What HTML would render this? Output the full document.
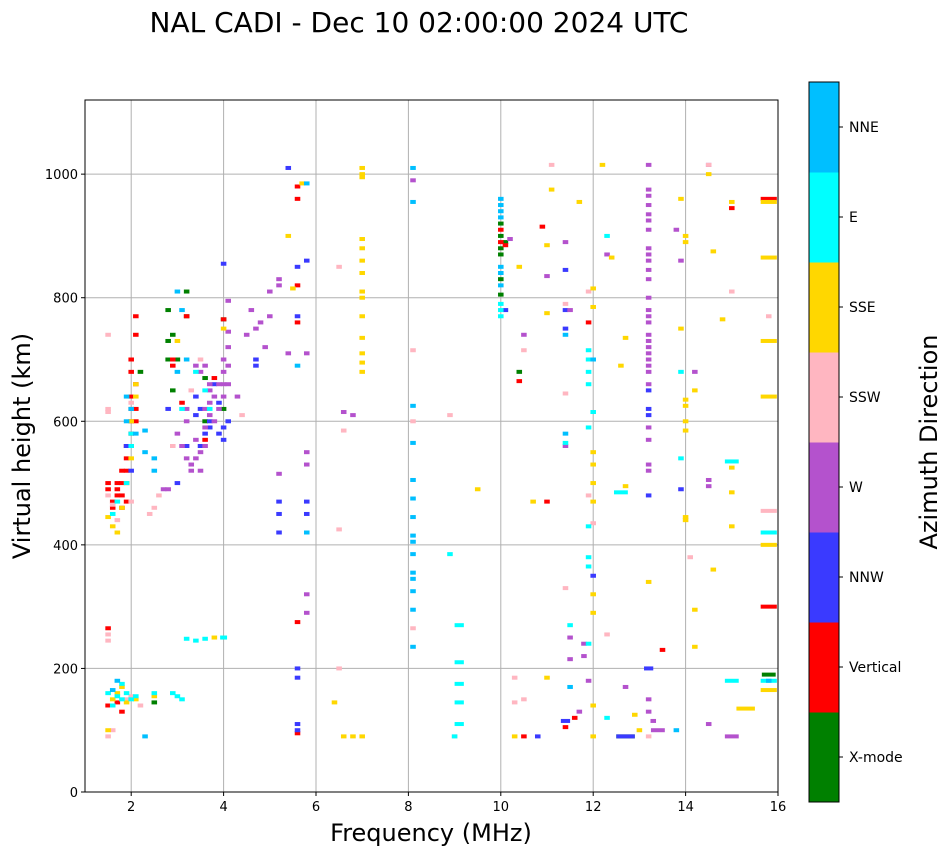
<!DOCTYPE html>
<html><head><meta charset="utf-8"><style>
body{margin:0;background:#fff;font-family:"Liberation Sans","DejaVu Sans",sans-serif}
svg text{font-family:"DejaVu Sans","Liberation Sans",sans-serif}
</style></head><body>
<svg id="chart" width="951" height="856" xmlns="http://www.w3.org/2000/svg">
<text x="419" y="32" font-size="28" text-anchor="middle">NAL CADI - Dec 10 02:00:00 2024 UTC</text>
<g id="grid"></g><g id="marks"></g><g id="axes"></g><g id="cbar"></g>
<text x="431" y="841" font-size="24" text-anchor="middle">Frequency (MHz)</text>
<text x="30" y="446" font-size="24" text-anchor="middle" transform="rotate(-90 30 446)">Virtual height (km)</text>
<text x="937" y="442" font-size="24" text-anchor="middle" transform="rotate(-90 937 442)">Azimuth Direction</text>
</svg>
<script>
const xTicks=[2,4,6,8,10,12,14,16];
const yTicks=[0,200,400,600,800,1000];
const dirNames=["X-mode","Vertical","NNW","W","SSW","SSE","E","NNE"];
const dirColors=["#008000","#ff0000","#3a3aff","#b452cd","#ffb6c1","#ffd700","#00ffff","#00bfff"];
// [freq MHz, height km, optional width MHz]
const xmode=[[2.8,780],[2.9,740],[2.9,650],[2.8,700],[2.8,730],[3.2,810],[3.2,770],[4.0,765],[10.0,920],[10.0,900],[10.0,880],[10.0,870],[10.0,830],[10.0,805],[10.1,890],[10.4,680],[12.7,90,0.4],[15.8,190,0.3],[3.6,600],[4.0,620],[2.5,145],[3.0,700],[3.6,670],[2.2,680]];
const vertical=[[1.5,500],[1.5,490],[1.6,470],[1.6,460],[1.7,500],[1.7,490],[1.7,480],[1.8,520],[1.8,480],[1.8,460],[1.8,500],[1.9,540],[1.9,520],[1.9,470],[1.9,500],[2.0,600],[2.0,560],[2.0,640],[2.0,680],[2.0,700],[2.1,620],[2.1,660],[2.1,770],[2.1,740],[2.1,600],[2.0,580],[1.9,560],[1.5,265],[1.5,140],[1.7,145],[1.8,130],[2.9,700],[2.9,690],[3.2,770],[3.1,630],[4.0,765],[5.6,980],[5.6,960],[5.6,820],[5.6,275],[5.6,95],[5.6,760],[10.0,910],[10.0,890],[10.1,885],[10.4,665],[10.9,915],[11.0,470],[11.4,105],[11.9,760],[11.6,120],[13.5,230],[15.0,945],[15.8,960,0.35],[15.8,300,0.35],[3.6,570],[3.8,670],[2.0,620],[10.5,90]];
const nnw=[[3.5,620],[3.7,600],[3.7,590],[3.8,660],[3.9,580],[4.0,570],[4.0,590],[4.1,600],[3.4,640],[3.5,560],[3.2,560],[3.0,500],[3.4,610],[4.7,700],[4.7,690],[5.2,470],[5.2,450],[5.2,420],[5.8,470],[5.8,450],[5.6,110],[5.6,100],[5.6,200],[5.6,185],[5.4,1010],[5.6,850],[5.8,860],[4.0,855],[5.6,770],[10.1,780],[11.4,780],[11.4,750],[11.4,845],[12.0,350],[13.2,650],[13.2,620],[13.2,610],[13.2,480],[13.2,200,0.2],[13.9,490],[11.4,115,0.2],[12.7,90,0.4],[10.8,90],[3.9,630],[3.6,580],[2.8,620],[1.9,560],[2.0,520]];
const west=[[2.8,490],[2.7,490],[3.0,580],[3.1,560],[3.2,540],[3.3,520],[3.3,530],[3.4,540],[3.4,570],[3.5,550],[3.5,520],[3.6,560],[3.6,590],[3.6,620],[3.7,610],[3.7,630],[3.7,650],[3.8,640],[3.8,600],[3.9,620],[3.9,660],[4.0,640],[4.0,660],[4.0,680],[4.0,700],[4.1,690],[4.1,720],[4.1,745],[4.1,795],[4.1,660],[4.3,640],[4.5,740],[4.6,780],[4.7,750],[4.8,760],[4.9,720],[5.0,770],[5.0,810],[5.2,820],[5.2,830],[5.4,710],[5.8,710],[5.8,550],[5.8,530],[5.8,320],[5.8,290],[5.2,515],[3.6,690],[3.4,690],[3.2,620],[3.2,600],[3.5,680],[3.7,660],[6.6,615],[6.8,610],[8.1,990],[10.2,895],[10.5,740],[11.0,835],[11.4,890],[11.5,780],[11.4,560],[11.5,250],[11.5,215],[11.8,220],[11.8,240],[11.9,180],[11.7,130],[12.7,170],[12.3,870],[13.2,1015],[13.2,975],[13.2,965],[13.2,950],[13.2,935],[13.2,925],[13.2,910],[13.2,880],[13.2,870],[13.2,860],[13.2,845],[13.2,830],[13.2,800],[13.2,780],[13.2,770],[13.2,760],[13.2,740],[13.2,730],[13.2,720],[13.2,710],[13.2,700],[13.2,690],[13.2,680],[13.2,660],[13.2,590],[13.2,570],[13.2,530],[13.2,520],[13.2,150],[13.2,130],[13.3,115],[13.4,100,0.3],[13.8,910],[13.9,860],[14.2,680],[14.5,505],[14.5,495],[14.5,110],[15.0,90,0.3],[14.5,1015]];
const ssw=[[1.5,740],[1.5,615],[1.5,620],[1.5,255],[1.5,245],[1.5,480],[1.6,465],[1.7,440],[2.0,470],[2.4,450],[2.5,460],[2.6,480],[2.0,630],[3.5,700],[3.3,650],[1.9,150],[2.2,140],[2.0,155],[1.6,100],[1.5,90],[6.5,425],[6.5,200],[6.6,585],[6.5,850],[8.1,715],[8.1,600],[8.1,265],[8.9,610],[9.0,90],[10.3,185],[10.5,150],[10.3,145],[10.5,715],[11.1,1015],[11.4,790],[11.4,645],[11.4,330],[11.9,810],[11.9,480],[12.0,435],[12.3,255],[13.2,90],[14.1,380],[14.5,1015],[15.0,810],[15.8,770],[15.8,455,0.35],[4.4,610],[2.9,560]];
const sse=[[1.5,445],[1.6,430],[1.7,420],[1.8,460],[1.9,500],[2.0,540],[2.0,600],[2.1,640],[2.1,660],[1.5,100],[1.6,150],[1.7,160],[1.8,170],[1.9,145],[2.1,150],[2.5,155],[3.8,250],[4.0,250],[3.0,730],[4.0,750],[5.4,900],[5.5,815],[5.7,985],[7.0,1010],[7.0,1000],[7.0,995],[7.0,895],[7.0,880],[7.0,860],[7.0,840],[7.0,810],[7.0,800],[7.0,770],[7.0,735],[7.0,710],[7.0,695],[7.0,680],[6.8,90],[7.0,90],[6.6,90],[6.4,145],[9.5,490],[10.3,90],[10.4,850],[11.0,885],[11.1,975],[10.7,470],[11.0,775],[11.0,185],[11.7,955],[12.0,815],[12.0,785],[12.0,550],[12.0,530],[12.0,500],[12.0,470],[12.0,320],[12.0,290],[12.0,140],[12.0,90],[12.2,1015],[12.4,865],[12.6,690],[12.7,735],[12.7,495],[12.9,125],[13.0,100],[13.2,340],[13.9,960],[14.0,900],[14.0,890],[13.9,750],[14.0,635],[14.0,625],[14.0,600],[14.0,585],[14.0,445],[14.0,440],[14.2,650],[14.2,295],[14.2,235],[14.5,1000],[14.6,360],[14.6,875],[14.8,765],[15.0,955],[15.0,525],[15.0,485],[15.0,430],[15.3,135,0.4],[15.8,955,0.35],[15.8,865,0.35],[15.8,730,0.35],[15.8,640,0.35],[15.8,400,0.35],[15.8,165,0.35]];
const east=[[1.6,450],[1.7,470],[1.9,500],[2.0,580],[2.0,560],[1.5,160],[1.6,140],[1.7,155],[1.8,150],[1.9,160],[2.0,150],[2.1,155],[1.8,175],[2.5,160],[2.9,160],[3.0,155],[3.1,150],[3.2,248],[3.4,245],[3.6,248],[4.0,250,0.15],[3.1,620],[3.4,680],[3.6,650],[3.7,620],[10.0,790],[10.0,780],[10.0,770],[9.1,270,0.2],[9.1,210,0.2],[9.1,175,0.2],[9.1,145,0.2],[9.1,110,0.2],[9.0,90],[8.9,385],[11.4,565],[11.9,715],[11.9,700],[11.9,680],[11.9,660],[11.9,590],[11.9,430],[11.9,380],[11.9,365],[11.9,240],[12.0,615],[12.3,900],[12.6,485,0.3],[12.3,120],[13.9,680],[13.9,540],[15.0,535,0.3],[15.0,180,0.3],[15.8,420,0.35],[15.8,180,0.35],[11.5,270]];
const nne=[[1.9,640],[1.9,600],[2.0,620],[2.1,580],[1.7,180],[1.6,165],[2.3,90],[2.3,585],[2.5,540],[2.3,550],[2.5,520],[3.0,810],[3.1,780],[3.0,680],[3.2,700],[5.8,985],[5.6,690],[5.8,420],[8.1,1010],[8.1,955],[8.1,625],[8.1,565],[8.1,505],[8.1,475],[8.1,445],[8.1,415],[8.1,405],[8.1,385],[8.1,355],[8.1,345],[8.1,325],[8.1,295],[8.1,235],[10.0,960],[10.0,950],[10.0,940],[10.0,930],[10.0,850],[10.0,840],[10.0,820],[11.4,580],[11.4,740],[11.5,170],[12.0,700],[13.8,100],[15.8,180]];
const series=[xmode,vertical,nnw,west,ssw,sse,east,nne];
const NS="http://www.w3.org/2000/svg";
const L=85,R=778,T=100,B=792;
const x=f=>L+(f-1)/15*(R-L), y=h=>B-h/1120*(B-T);
function mk(tag,a,p){const e=document.createElementNS(NS,tag);for(const k in a)e.setAttribute(k,a[k]);p.appendChild(e);return e;}
const grid=document.getElementById('grid'),marks=document.getElementById('marks'),axes=document.getElementById('axes'),cb=document.getElementById('cbar');
xTicks.forEach(t=>{
 const g=mk('line',{x1:x(t),x2:x(t),y1:T,y2:B,stroke:'#b0b0b0','stroke-width':1},grid);
 
 
 mk('line',{x1:x(t),x2:x(t),y1:B,y2:B+4,stroke:'#000'},axes);
 const tx=mk('text',{x:x(t),y:B+19,'font-size':13,'text-anchor':'middle'},axes);tx.textContent=t;
 
 
});
yTicks.forEach(t=>{
 const g=mk('line',{x1:L,x2:R,y1:y(t),y2:y(t),stroke:'#b0b0b0','stroke-width':1},grid);
 
 
 mk('line',{x1:L-4,x2:L,y1:y(t),y2:y(t),stroke:'#000'},axes);
 const tx=mk('text',{x:L-7,y:y(t)+5,'font-size':13,'text-anchor':'end'},axes);tx.textContent=t;
 
 
});
const fr=mk('rect',{x:L,y:T,width:R-L,height:B-T,fill:'none',stroke:'#000'},axes);


series.forEach((pts,c)=>{
 pts.forEach(p=>{
  const w=p[2]||0.12;
  const r=mk('rect',{x:x(p[0]-w/2),y:y(p[1])-2,width:x(1+w)-x(1),height:4,fill:dirColors[c]},marks);
  
  
 });
});
const cx=809,cw=30,ct=82,cbt=802,seg=(cbt-ct)/dirNames.length;
dirNames.forEach((n,i)=>{
 const yy=cbt-(i+1)*seg;
 const r=mk('rect',{x:cx,y:yy,width:cw,height:seg+0.5,fill:dirColors[i]},cb);
 
 
 mk('line',{x1:cx+cw,x2:cx+cw+4,y1:yy+seg/2,y2:yy+seg/2,stroke:'#000'},cb);
 const t=mk('text',{x:cx+cw+10,y:yy+seg/2+5,'font-size':14},cb);t.textContent=n;
 
 
});
const cf=mk('rect',{x:cx,y:ct,width:cw,height:cbt-ct,fill:'none',stroke:'#000'},cb);


</script>
</body></html>
